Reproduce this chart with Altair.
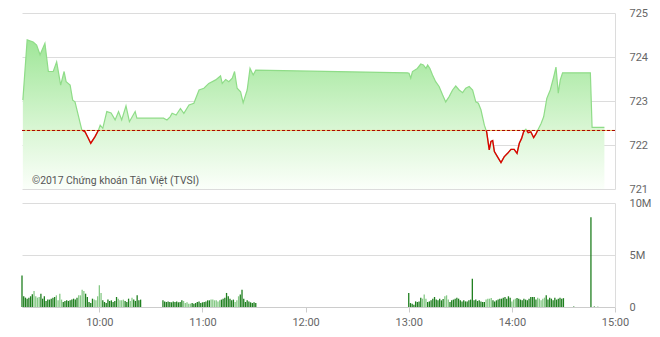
import altair as alt
import pandas as pd

DAY = "2017-01-01T"
REF = 722.33
WATERMARK = "©2017 Chứng khoán Tân Việt (TVSI)"

price_times = [
    "09:15:30", "09:18:00", "09:21:30", "09:23:30", "09:25:30", "09:28:20", "09:30:20", "09:33:10",
    "09:35:10", "09:37:30", "09:39:30", "09:40:40", "09:43:00", "09:44:30", "09:45:50", "09:49:50",
    "09:51:40", "09:53:30", "09:55:00", "09:57:30", "09:59:30", "10:00:30", "10:02:00", "10:04:20",
    "10:06:50", "10:09:10", "10:11:10", "10:13:00", "10:15:30", "10:17:30", "10:20:50", "10:21:50",
    "10:37:20", "10:39:20", "10:41:10", "10:42:20", "10:44:40", "10:47:10", "10:49:10", "10:52:10",
    "10:55:00", "10:58:00", "11:00:50", "11:03:40", "11:07:40", "11:10:30", "11:11:30", "11:13:30",
    "11:15:20", "11:17:20", "11:18:40", "11:20:10", "11:22:10", "11:23:40", "11:26:00", "11:27:40",
    "11:29:30", "11:31:00", "12:59:10", "13:00:10", "13:01:10", "13:02:10", "13:05:00", "13:07:00",
    "13:08:30", "13:10:00", "13:11:00", "13:12:20", "13:13:50", "13:15:40", "13:17:40", "13:19:40",
    "13:21:30", "13:23:30", "13:25:30", "13:27:20", "13:29:20", "13:31:20", "13:33:10", "13:35:10",
    "13:37:10", "13:39:00", "13:40:30", "13:42:00", "13:44:00", "13:45:20", "13:46:50", "13:47:50",
    "13:48:50", "13:49:50", "13:51:40", "13:53:40", "13:55:30", "13:57:30", "13:59:30", "14:01:20",
    "14:03:00", "14:04:20", "14:05:40", "14:06:50", "14:08:10", "14:09:30", "14:11:00", "14:12:40",
    "14:14:00", "14:15:20", "14:17:00", "14:18:30", "14:20:20", "14:22:20", "14:24:20", "14:25:40",
    "14:27:00", "14:28:10", "14:29:30", "14:45:40", "14:46:40", "14:53:50",
]
price_values = [
    723.02, 724.39, 724.34, 724.27, 724.05, 724.31, 723.67, 723.67,
    723.89, 723.36, 723.67, 723.44, 723.36, 723.02, 722.98, 722.34,
    722.30, 722.16, 722.04, 722.19, 722.34, 722.45, 722.38, 722.76,
    722.73, 722.57, 722.76, 722.57, 722.89, 722.53, 722.76, 722.61,
    722.61, 722.57, 722.64, 722.72, 722.68, 722.83, 722.72, 722.91,
    722.95, 723.25, 723.29, 723.40, 723.48, 723.57, 723.40, 723.49,
    723.44, 723.52, 723.67, 723.29, 723.21, 722.96, 723.25, 723.74,
    723.59, 723.70, 723.64, 723.63, 723.52, 723.67, 723.74, 723.84,
    723.82, 723.74, 723.82, 723.74, 723.59, 723.44, 723.33, 723.14,
    722.98, 723.10, 723.25, 723.34, 723.25, 723.19, 723.29, 723.33,
    723.25, 722.98, 722.95, 722.80, 722.45, 722.30, 721.89, 722.08,
    722.10, 721.85, 721.73, 721.60, 721.73, 721.81, 721.90, 721.90,
    721.81, 722.04, 722.15, 722.30, 722.36, 722.28, 722.30, 722.17,
    722.25, 722.36, 722.49, 722.64, 723.06, 723.25, 723.55, 723.77,
    723.18, 723.48, 723.64, 723.64, 722.40, 722.40,
]

# volume in millions, one bar per minute from each group's start
vol_g1_start = "09:15:00"
vol_g1 = [
    3.04, 1.03, 0.90, 0.80, 0.90, 1.03, 1.22, 1.54, 1.03, 0.90,
    0.96, 1.28, 0.80, 1.03, 0.58, 0.71, 0.71, 0.80, 0.90, 0.96,
    1.12, 0.64, 1.28, 0.71, 0.48, 0.58, 0.64, 0.58, 0.64, 0.71,
    0.80, 0.71, 0.90, 1.12, 1.12, 1.67, 1.54, 1.28, 0.96, 0.48,
    0.38, 0.80, 0.71, 0.64, 1.03, 2.08, 1.35, 0.64, 0.48, 0.38,
    0.71, 0.58, 0.64, 0.48, 0.58, 0.96, 0.80, 0.64, 0.64, 0.71,
    0.58, 0.48, 0.80, 0.58, 0.90, 0.71, 0.58, 1.12, 0.64, 0.71,
]
vol_g1_light = [7, 8, 9, 10, 20, 21, 22, 23, 33, 34, 35, 36, 42, 43, 44, 45, 46, 56, 57, 58, 59, 63, 64]

vol_g2_start = "10:37:00"
vol_g2 = [
    0.64, 0.54, 0.48, 0.54, 0.48, 0.45, 0.54, 0.48, 0.54, 0.45,
    0.48, 0.64, 0.58, 0.38, 0.45, 0.32, 0.32, 0.38, 0.32, 0.38,
    0.48, 0.54, 0.38, 0.45, 0.48, 0.54, 0.64, 0.64, 0.71, 0.71,
    0.64, 0.64, 0.54, 0.64, 0.71, 0.80, 0.90, 1.35, 1.03, 0.80,
    0.64, 0.71, 0.48, 0.64, 1.03, 1.19, 1.67, 0.80, 0.48, 0.64,
    0.54, 0.45, 0.38, 0.45, 0.38,
]
vol_g2_light = [12, 13, 14, 15, 16, 28, 29, 30, 31, 32, 33, 42, 43, 44]

vol_g3_start = "13:00:00"
vol_g3 = [
    1.35, 0.38, 0.32, 0.22, 0.54, 0.48, 0.54, 0.90, 0.80, 1.19,
    0.80, 0.48, 0.54, 0.64, 0.80, 0.96, 0.71, 0.64, 0.80, 0.64,
    0.77, 1.03, 1.12, 0.71, 0.48, 0.64, 0.71, 0.80, 0.90, 0.80,
    0.64, 0.54, 0.64, 0.54, 0.54, 0.64, 0.71, 2.72, 0.64, 0.71,
    0.58, 0.64, 0.54, 0.48, 0.48, 0.71, 0.80, 0.80, 0.87, 0.64,
    0.54, 0.64, 0.71, 0.80, 0.80, 0.90, 0.96, 0.80, 1.03, 0.90,
    0.54, 0.71, 0.80, 0.87, 0.80, 0.71, 0.64, 0.80, 0.71, 0.64,
    0.80, 0.96, 0.96, 0.96, 0.71, 0.90, 0.80, 0.64, 0.80, 0.90,
    1.12, 0.71, 0.90, 0.80, 0.64, 0.90, 0.71, 0.80, 0.90, 0.80,
    0.85,
]
vol_g3_light = [8, 9, 10, 21, 22, 23, 45, 46, 47, 48, 60, 61, 62, 75, 76, 77, 78, 79]

vol_atc_times = ["14:36:00", "14:46:00", "14:48:00", "14:50:00"]
vol_atc = [0.05, 8.63, 0.05, 0.03]

# ---------------- data tables ----------------
def ts(s):
    return pd.Timestamp(DAY + s)

rows = []
prev = None
for t_s, v in zip(price_times, price_values):
    t = ts(t_s)
    if prev is not None:
        t0, v0 = prev
        if (v0 - REF) * (v - REF) < 0:
            frac = (REF - v0) / (v - v0)
            rows.append((t0 + (t - t0) * frac, REF))
    rows.append((t, v))
    prev = (t, v)
price_df = pd.DataFrame(rows, columns=["time", "price"])

red_rows = []
seg = 0
in_red = False
for t, v in rows:
    if v <= REF + 1e-9:
        if not in_red:
            seg += 1
            in_red = True
        red_rows.append((t, v, seg))
    else:
        in_red = False
red_df = pd.DataFrame(red_rows, columns=["time", "price", "seg"])

vrows = []
for start, vals, light in [(vol_g1_start, vol_g1, vol_g1_light),
                           (vol_g2_start, vol_g2, vol_g2_light),
                           (vol_g3_start, vol_g3, vol_g3_light)]:
    t0 = ts(start)
    for i, v in enumerate(vals):
        vrows.append((t0 + pd.Timedelta(minutes=i), v * 1e6, "light" if i in light else "dark"))
for t_s, v in zip(vol_atc_times, vol_atc):
    vrows.append((ts(t_s), v * 1e6, "dark"))
vol_df = pd.DataFrame(vrows, columns=["time", "volume", "tone"])

# ---------------- chart ----------------
t_start = alt.DateTime(year=2017, month=1, date=1, hours=9, minutes=15)
t_end = alt.DateTime(year=2017, month=1, date=1, hours=15, minutes=0)
hour_ticks = [alt.DateTime(year=2017, month=1, date=1, hours=h) for h in range(10, 16)]

def xscale():
    return alt.Scale(domain=[t_start, t_end], nice=False, padding=0)

GRID = "#dcdcdc"
LABEL = "#666666"

y_price = alt.Y(
    "price:Q",
    scale=alt.Scale(domain=[721, 725], zero=False, nice=False),
    axis=alt.Axis(orient="right", values=[721, 722, 723, 724, 725], title=None,
                  ticks=False, domain=True, domainColor=GRID, gridColor=GRID,
                  labelPadding=14, labelColor=LABEL, labelFontSize=11, labelFont="Roboto"),
)

fill = alt.Gradient(
    gradient="linear",
    stops=[alt.GradientStop(color="#9fe698", offset=0),
           alt.GradientStop(color="#d9f6d4", offset=0.6),
           alt.GradientStop(color="#fbfffa", offset=1)],
    x1=1, x2=1, y1=0, y2=1,
)

base = alt.Chart(price_df).encode(x=alt.X("time:T", scale=xscale(), axis=None))
area = base.mark_area(fill=fill, interpolate="linear").encode(y=y_price, y2=alt.datum(721))
green_line = base.mark_line(color="#8fdc88", strokeWidth=1.2).encode(y="price:Q")

ref_df = pd.DataFrame({"ref": [REF]})
ref_under = alt.Chart(ref_df).mark_rule(color="#e8c45a", strokeWidth=1).encode(y="ref:Q")
ref_dash = alt.Chart(ref_df).mark_rule(color="#a80000", strokeWidth=1, strokeDash=[3, 2]).encode(y="ref:Q")

red_line = alt.Chart(red_df).mark_line(color="#dd0000", strokeWidth=1.4).encode(
    x=alt.X("time:T", scale=xscale(), axis=None), y="price:Q", detail="seg:N")

mark_txt = alt.Chart(pd.DataFrame({"t": [WATERMARK]})).mark_text(
    align="left", baseline="middle", font="Roboto", fontSize=10.4, color="#555555"
).encode(x=alt.value(10), y=alt.value(168), text="t:N")

top = alt.layer(area, green_line, ref_under, ref_dash, red_line, mark_txt).properties(width=593, height=176)

bars = alt.Chart(vol_df).mark_bar(width=1.3).encode(
    x=alt.X("time:T", scale=xscale(),
            axis=alt.Axis(values=hour_ticks, format="%H:%M", title=None, grid=False,
                          tickSize=5, tickColor="#cccccc", domainColor="#cccccc",
                          labelFlush=False, labelOverlap=False,
                          labelPadding=4, labelColor=LABEL, labelFontSize=11, labelFont="Roboto")),
    y=alt.Y("volume:Q", scale=alt.Scale(domain=[0, 1e7], nice=False),
            axis=alt.Axis(orient="right", values=[0, 5e6, 1e7], title=None, ticks=False,
                          domain=True, domainColor=GRID, gridColor=GRID, labelPadding=14,
                          labelColor=LABEL, labelFontSize=11, labelFont="Roboto",
                          labelExpr="datum.value == 0 ? '0' : format(datum.value / 1e6, 'd') + 'M'")),
    color=alt.Color("tone:N", scale=alt.Scale(domain=["dark", "light"], range=["#1f7f1f", "#86c986"]), legend=None),
).properties(width=593, height=104)

chart = alt.vconcat(top, bars, spacing=3).properties(
    padding={"left": 20, "top": 7, "right": 0, "bottom": 0}
).configure_view(stroke=None)

chart.save("out.html", embed_options={"renderer": "svg", "actions": False})
